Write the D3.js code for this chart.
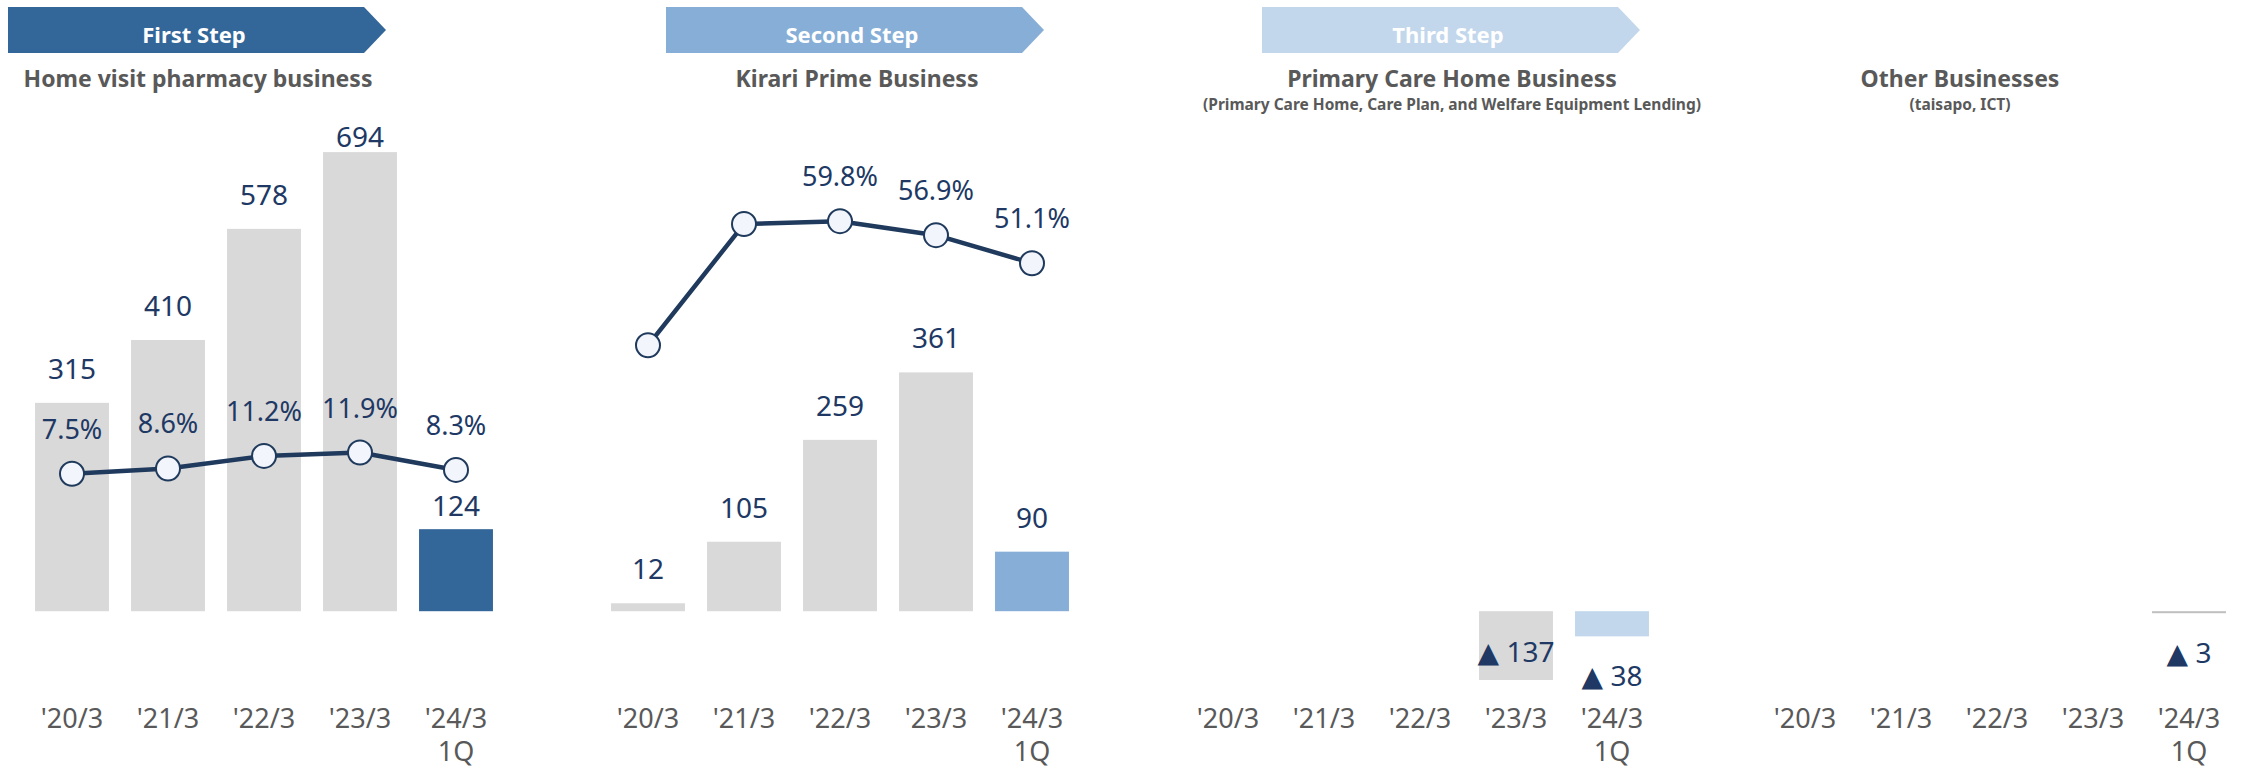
<!DOCTYPE html>
<html>
<head>
<meta charset="utf-8">
<script src="https://cdn.jsdelivr.net/npm/d3@7"></script>
<style>
    body { margin: 0; background: #fff; }
    svg text { font-family: "Noto Sans", "DejaVu Sans", sans-serif; }
</style>
</head>
<body>
<div id="chart-area"></div>
<script>
// fiscal periods (last one is the current 1Q)
const periods = ["'20/3", "'21/3", "'22/3", "'23/3", "'24/3"];
const periodSub = ["", "", "", "", "1Q"];

// operating profit by business (▲ = loss)
const homeVisitProfit = [315, 410, 578, 694, 124];
const kirariProfit = [12, 105, 259, 361, 90];
const primaryCareProfit = [null, null, null, -137, -38];
const otherProfit = [null, null, null, null, -3];

// profit margin (%)
const homeVisitMargin = [7.5, 8.6, 11.2, 11.9, 8.3];
const kirariMargin = [34.1, 59.2, 59.8, 56.9, 51.1];
const kirariMarginLabeled = [false, false, true, true, true];

// headers
const stepNames = ["First Step", "Second Step", "Third Step", null];
const titles = ["Home visit pharmacy business", "Kirari Prime Business", "Primary Care Home Business", "Other Businesses"];
const subtitles = [null, null, "(Primary Care Home, Care Plan, and Welfare Equipment Lending)", "(taisapo, ICT)"];

const stepColors = ['#336699', '#86aed6', '#c2d7ec', '#bfbfbf'];

class BusinessPanel {
    constructor(svg, opts) {
        this.svg = svg;
        this.opts = opts;
        this.initVis();
    }

    initVis() {
        let vis = this;
        let o = vis.opts;

        vis.g = vis.svg.append("g").attr("class", "panel");

        // x: one band per period, 96px step
        vis.x = d3.scaleBand()
            .domain(periods)
            .range([o.left, o.left + 480])
            .paddingInner(0.23)
            .paddingOuter(0.115);

        // profit scale shared by all panels, clipped below
        vis.y = d3.scaleLinear()
            .domain([-104, 800])
            .range([680, 82])
            .clamp(true);

        // margin scale
        vis.yPct = d3.scaleLinear()
            .domain([0, 100])
            .range([510, 27]);

        vis.dotR = 12;

        vis.drawHeader();
        vis.drawBars();
        if (o.margin) vis.drawLine();
        vis.drawAxis();
    }

    cx(period) {
        return this.x(period) + this.x.bandwidth() / 2;
    }

    drawHeader() {
        let vis = this;
        let o = vis.opts;

        if (o.step) {
            let x0 = o.chevronX, w = 356, h = 46, y0 = 7;
            vis.g.append("path")
                .attr("d", `M${x0},${y0} H${x0 + w} L${x0 + w + 22},${y0 + h / 2} L${x0 + w},${y0 + h} H${x0} Z`)
                .attr("fill", o.color);
            vis.g.append("text")
                .attr("x", x0 + w / 2 + 8)
                .attr("y", 43)
                .attr("text-anchor", "middle")
                .attr("fill", "#fff")
                .attr("font-size", 22)
                .attr("font-weight", "bold")
                .text(o.step);
        }

        vis.g.append("text")
            .attr("x", o.titleX)
            .attr("y", 87)
            .attr("text-anchor", "middle")
            .attr("fill", "#595959")
            .attr("font-size", 23)
            .attr("font-weight", "bold")
            .text(o.title);

        if (o.subtitle) {
            vis.g.append("text")
                .attr("x", o.titleX)
                .attr("y", 110)
                .attr("text-anchor", "middle")
                .attr("fill", "#595959")
                .attr("font-size", 15.5)
                .attr("font-weight", "bold")
                .text(o.subtitle);
        }
    }

    drawBars() {
        let vis = this;
        let o = vis.opts;
        let data = o.profit.map(function(v, i) { return {period: periods[i], value: v, i: i}; })
            .filter(function(d) { return d.value !== null; });

        vis.g.selectAll(".bar")
            .data(data)
            .enter()
            .append("rect")
            .attr("class", "bar")
            .attr("x", function(d) { return vis.x(d.period); })
            .attr("width", vis.x.bandwidth())
            .attr("y", function(d) { return Math.min(vis.y(d.value), vis.y(0)); })
            .attr("height", function(d) { return Math.max(Math.abs(vis.y(d.value) - vis.y(0)), 2); })
            .attr("fill", function(d) { return d.i === periods.length - 1 ? o.color : '#d9d9d9'; });

        vis.g.selectAll(".value-label")
            .data(data)
            .enter()
            .append("text")
            .attr("class", "value-label")
            .attr("x", function(d) { return vis.cx(d.period); })
            .attr("y", function(d) {
                if (d.value >= 0) {
                    let base = Math.max(vis.y(d.value) - 24, 147);
                    // keep clear of the margin dot sitting just above the bar
                    if (o.margin) {
                        let cy = vis.yPct(o.margin[d.i]);
                        if (base > cy - vis.dotR && base - 20 < cy + vis.dotR + 14) {
                            base = cy + vis.dotR + 34;
                        }
                    }
                    return base;
                }
                let bottom = Math.max(vis.y(d.value), vis.y(0) + 2);
                // outside end if there is room, otherwise inside the bar
                return bottom + 50 > 690 ? bottom - 18 : bottom + 50;
            })
            .attr("text-anchor", "middle")
            .attr("fill", "#203864")
            .attr("font-size", 28)
            .text(function(d) { return d.value < 0 ? "▲ " + Math.abs(d.value) : d.value; });
    }

    drawLine() {
        let vis = this;
        let o = vis.opts;
        let pts = o.margin.map(function(v, i) {
            return {period: periods[i], value: v, show: o.marginLabeled ? o.marginLabeled[i] : true};
        });

        let line = d3.line()
            .x(function(d) { return vis.cx(d.period); })
            .y(function(d) { return vis.yPct(d.value); });

        vis.g.append("path")
            .datum(pts)
            .attr("d", line)
            .attr("fill", "none")
            .attr("stroke", "#1f3a5c")
            .attr("stroke-width", 4.5)
            .attr("stroke-linejoin", "round");

        vis.g.selectAll(".dot")
            .data(pts)
            .enter()
            .append("circle")
            .attr("class", "dot")
            .attr("cx", function(d) { return vis.cx(d.period); })
            .attr("cy", function(d) { return vis.yPct(d.value); })
            .attr("r", vis.dotR)
            .attr("fill", "#f2f5fb")
            .attr("stroke", "#1f3a5c")
            .attr("stroke-width", 2);

        vis.g.selectAll(".pct-label")
            .data(pts.filter(function(d) { return d.show; }))
            .enter()
            .append("text")
            .attr("class", "pct-label")
            .attr("x", function(d) { return vis.cx(d.period); })
            .attr("y", function(d) { return vis.yPct(d.value) - 35; })
            .attr("text-anchor", "middle")
            .attr("fill", "#203864")
            .attr("font-size", 27)
            .text(function(d) { return d.value.toFixed(1) + "%"; });
    }

    drawAxis() {
        let vis = this;
        let axis = vis.g.append("g")
            .attr("transform", "translate(0,728)")
            .call(d3.axisBottom(vis.x).tickSize(0).tickPadding(0));

        axis.select(".domain").remove();
        axis.selectAll(".tick text")
            .attr("dy", 0)
            .attr("y", 0)
            .attr("fill", "#595959")
            .attr("font-size", 27)
            .style("font-family", '"Noto Sans", sans-serif')
            .each(function(d, i) {
                if (periodSub[i]) {
                    d3.select(this).append("tspan")
                        .attr("x", 0)
                        .attr("dy", 33)
                        .text(periodSub[i]);
                }
            });
    }
}

let svg = d3.select("#chart-area").append("svg")
    .attr("width", 2247)
    .attr("height", 770);

let panels = [
    {profit: homeVisitProfit, margin: homeVisitMargin, left: 24, chevronX: 8, titleX: 198},
    {profit: kirariProfit, margin: kirariMargin, marginLabeled: kirariMarginLabeled, left: 600, chevronX: 666, titleX: 857},
    {profit: primaryCareProfit, left: 1180, chevronX: 1262, titleX: 1452},
    {profit: otherProfit, left: 1757, chevronX: null, titleX: 1960}
];

panels.forEach(function(p, i) {
    p.step = stepNames[i];
    p.title = titles[i];
    p.subtitle = subtitles[i];
    p.color = stepColors[i];
    new BusinessPanel(svg, p);
});
</script>
</body>
</html>
